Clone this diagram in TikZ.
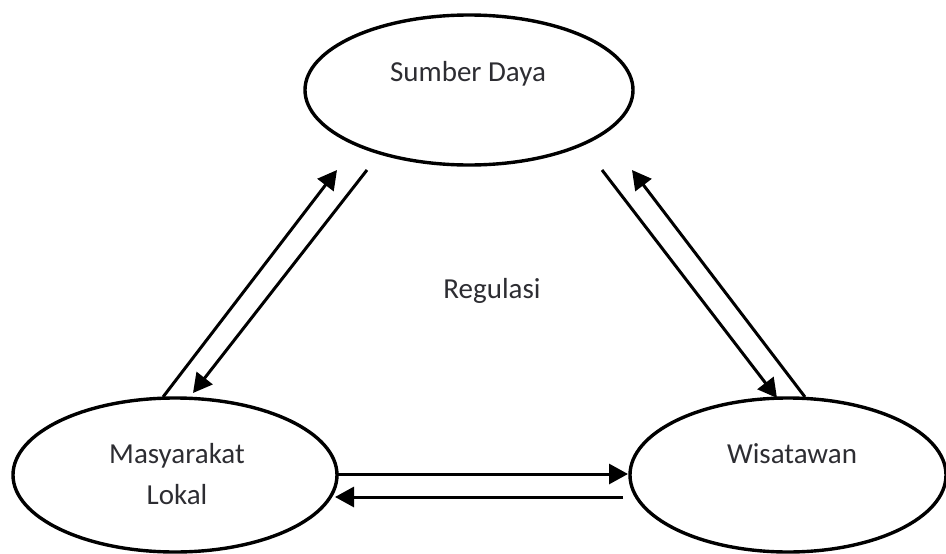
\documentclass[tikz,border=0pt]{standalone}
\usepackage{fontspec}
\setmainfont{Carlito}
\usetikzlibrary{shapes.geometric,arrows.meta}
\definecolor{txt}{RGB}{45,45,50}
\begin{document}
\begin{tikzpicture}[x=1pt,y=-1pt,
  blob/.style={draw=black,line width=3.4pt,ellipse,inner sep=0pt,outer sep=0pt},
  lbl/.style={text=txt,font=\fontsize{29}{41}\selectfont,inner sep=0pt,align=center},
  arr/.style={line width=3pt,-{Triangle[length=19pt,width=20pt]}}]
\useasboundingbox (0,0) rectangle (946,554);
\node[blob,minimum width=328pt,minimum height=150pt] (sd) at (469,90) {};
\node[blob,minimum width=324pt,minimum height=154pt] (ml) at (175,475) {};
\node[blob,minimum width=316pt,minimum height=154pt] (wi) at (788,475) {};
\node[lbl] (tsd) at (468,74) {Sumber Daya};
\node[lbl] (tml) at (177,474) {Masyarakat\\Lokal};
\node[lbl] (twi) at (792,454) {Wisatawan};
\node[lbl] (treg) at (492,291) {Regulasi};
% left pair
\draw[arr] ([shift={(-12,-78)}]ml.center) -- ([shift={(-132,80)}]sd.center);
\draw[arr] ([shift={(-102,80)}]sd.center) -- ([shift={(18,-82)}]ml.center);
% right pair
\draw[arr] ([shift={(133,80)}]sd.center) -- ([shift={(-11,-77)}]wi.center);
\draw[arr] ([shift={(17,-78)}]wi.center) -- ([shift={(163,80)}]sd.center);
% horizontal pair
\draw[arr] ([shift={(163,-1)}]ml.center) -- ([shift={(-160,-1)}]wi.center);
\draw[arr] ([shift={(-165,22)}]wi.center) -- ([shift={(160,22)}]ml.center);
\end{tikzpicture}
\end{document}
